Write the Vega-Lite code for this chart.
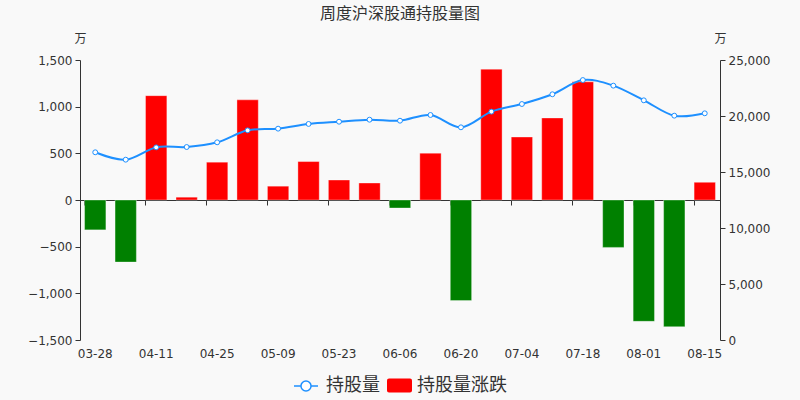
{
  "$schema": "https://vega.github.io/schema/vega-lite/v6.json",
  "width": 640,
  "height": 280,
  "autosize": "none",
  "padding": {"left": 80, "top": 60, "right": 80, "bottom": 60},
  "background": "#f9f9f9",
  "title": {"text": "周度沪深股通持股量图", "fontSize": 16, "fontWeight": "normal", "color": "#333", "anchor": "middle", "offset": 10},
  "data": {"values": [
    {"date": "03-28", "chg": -320, "hold": 16760},
    {"date": "04-04", "chg": -665, "hold": 16100},
    {"date": "04-11", "chg": 1118, "hold": 17200},
    {"date": "04-18", "chg": 30, "hold": 17230},
    {"date": "04-25", "chg": 405, "hold": 17650},
    {"date": "05-02", "chg": 1073, "hold": 18720},
    {"date": "05-09", "chg": 148, "hold": 18870},
    {"date": "05-16", "chg": 412, "hold": 19290},
    {"date": "05-23", "chg": 214, "hold": 19490},
    {"date": "05-30", "chg": 182, "hold": 19670},
    {"date": "06-06", "chg": -86, "hold": 19580},
    {"date": "06-13", "chg": 502, "hold": 20090},
    {"date": "06-20", "chg": -1078, "hold": 18990},
    {"date": "06-27", "chg": 1402, "hold": 20390},
    {"date": "07-04", "chg": 675, "hold": 21070},
    {"date": "07-11", "chg": 879, "hold": 21940},
    {"date": "07-18", "chg": 1266, "hold": 23210},
    {"date": "07-25", "chg": -508, "hold": 22710},
    {"date": "08-01", "chg": -1300, "hold": 21400},
    {"date": "08-08", "chg": -1358, "hold": 20030},
    {"date": "08-15", "chg": 190, "hold": 20240}
  ]},
  "encoding": {
    "x": {"field": "date", "type": "ordinal", "sort": null,
      "scale": {"paddingInner": 0.3, "paddingOuter": 0.15}}
  },
  "layer": [
    {
      "mark": {"type": "bar", "strokeWidth": 1, "strokeOpacity": 0.35, "stroke": "#ffffff"},
      "encoding": {
        "x": {"field": "date", "type": "ordinal", "sort": null,
          "axis": {"orient": "bottom", "title": null, "domain": false, "ticks": false, "labelAngle": 0, "labelPadding": 8, "labelFontSize": 12, "labelColor": "#333",
            "values": ["03-28", "04-11", "04-25", "05-09", "05-23", "06-06", "06-20", "07-04", "07-18", "08-01", "08-15"]}},
        "y": {"field": "chg", "type": "quantitative",
          "scale": {"domain": [-1500, 1500], "nice": false},
          "axis": {"orient": "left", "values": [-1500, -1000, -500, 0, 500, 1000, 1500], "format": ",.0f", "grid": false, "title": "万", "titleAngle": 0, "titleX": 0, "titleY": -22, "titleAlign": "center", "titleBaseline": "middle", "titleFontSize": 12, "titleFontWeight": "normal", "titleColor": "#333", "labelFontSize": 12, "labelColor": "#333", "domainColor": "#333", "tickColor": "#333", "tickSize": 5, "labelPadding": 3}},
        "fill": {"condition": {"test": "datum.chg < 0", "value": "#008000"}, "datum": "持股量涨跌",
          "scale": {"domain": ["持股量涨跌"], "range": ["#ff0000"]},
          "legend": {"orient": "none", "legendX": 307, "legendY": 313, "direction": "horizontal", "title": null, "padding": 0, "labelFontSize": 18, "labelColor": "#333", "labelOffset": 5, "symbolSize": 625, "symbolOpacity": 1, "symbolStrokeWidth": 0,
            "symbolType": "M-0.84,-0.56H0.84A0.16,0.16 0 0,1 1,-0.4V0.4A0.16,0.16 0 0,1 0.84,0.56H-0.84A0.16,0.16 0 0,1 -1,0.4V-0.4A0.16,0.16 0 0,1 -0.84,-0.56Z"}
        }
      }
    },
    {
      "layer": [
        {
          "mark": {"type": "line", "interpolate": "cardinal", "strokeWidth": 2},
          "encoding": {
            "x": {"field": "date", "type": "ordinal", "sort": null,
              "axis": {"orient": "bottom", "offset": -140, "title": null, "labels": false, "domain": true, "ticks": true, "bandPosition": 0, "domainColor": "#333", "tickColor": "#333", "tickSize": 5,
                "values": ["03-28", "04-11", "04-25", "05-09", "05-23", "06-06", "06-20", "07-04", "07-18", "08-01", "08-15"]}},
            "y": {"field": "hold", "type": "quantitative",
              "scale": {"domain": [0, 25000], "nice": false},
              "axis": {"orient": "right", "values": [0, 5000, 10000, 15000, 20000, 25000], "format": ",.0f", "grid": false, "title": "万", "titleAngle": 0, "titleX": 0, "titleY": -22, "titleAlign": "center", "titleBaseline": "middle", "titleFontSize": 12, "titleFontWeight": "normal", "titleColor": "#333", "labelFontSize": 12, "labelColor": "#333", "domainColor": "#333", "tickColor": "#333", "tickSize": 5, "labelPadding": 3}},
            "stroke": {"datum": "持股量",
              "scale": {"domain": ["持股量"], "range": ["#1e90ff"]},
              "legend": {"orient": "none", "legendX": 213, "legendY": 313, "direction": "horizontal", "title": null, "padding": 0, "labelFontSize": 18, "labelColor": "#333", "labelOffset": 7, "symbolSize": 576, "symbolOpacity": 1, "symbolStrokeWidth": 1.5, "symbolFillColor": "#ffffff",
                "symbolType": "M-1,0H-0.42M0.42,0H1M0.42,0A0.42,0.42 0 1,1 -0.42,0A0.42,0.42 0 1,1 0.42,0Z"}
            }
          }
        },
        {
          "mark": {"type": "point", "filled": true, "fill": "#ffffff", "stroke": "#1e90ff", "strokeWidth": 1, "size": 24, "opacity": 1},
          "encoding": {
            "y": {"field": "hold", "type": "quantitative"}
          }
        }
      ]
    }
  ],
  "resolve": {"scale": {"y": "independent"}, "axis": {"x": "independent"}},
  "config": {
    "view": {"stroke": null},
    "font": "DejaVu Sans, Noto Sans CJK SC",
    "axis": {"labelFont": "DejaVu Sans", "titleFont": "Noto Sans CJK SC"},
    "legend": {"labelFont": "Noto Sans CJK SC"},
    "title": {"font": "Noto Sans CJK SC"}
  }
}
